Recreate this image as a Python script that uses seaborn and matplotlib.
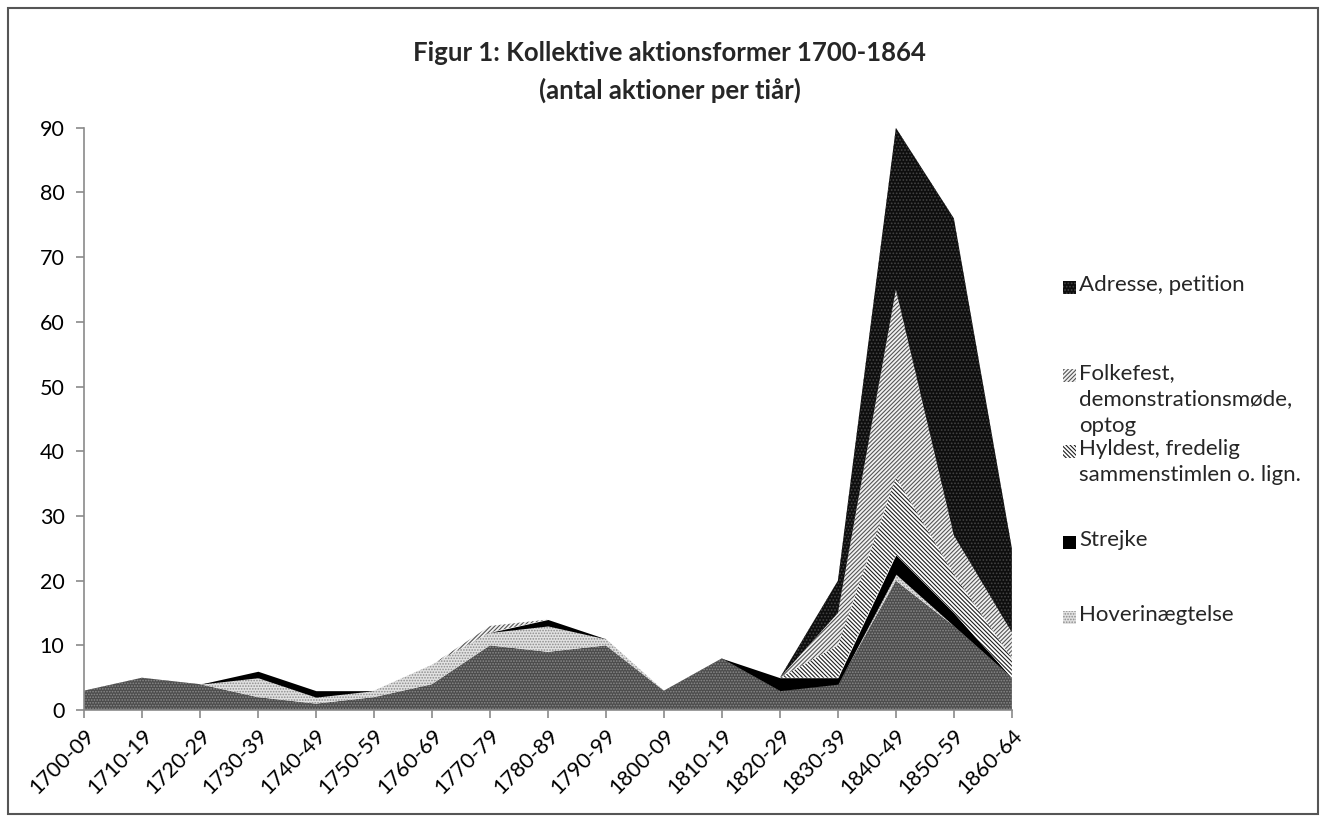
import numpy as np
import matplotlib
matplotlib.use("Agg")
import matplotlib.pyplot as plt
from matplotlib.patches import Rectangle
import seaborn as sns

periods = ["1700-09", "1710-19", "1720-29", "1730-39", "1740-49", "1750-59",
           "1760-69", "1770-79", "1780-89", "1790-99", "1800-09", "1810-19",
           "1820-29", "1830-39", "1840-49", "1850-59", "1860-64"]

# stacked bottom -> top
uro       = [3, 5, 4, 2, 1, 2, 4, 10, 9, 10, 3, 8, 3, 4, 20, 13, 5]
hoveri    = [0, 0, 0, 3, 1, 1, 3, 2, 4, 1, 0, 0, 0, 0, 1, 0, 0]
strejke   = [0, 0, 0, 1, 1, 0, 0, 0, 1, 0, 0, 0, 2, 1, 3, 2, 0]
hyldest   = [0, 0, 0, 0, 0, 0, 0, 0, 0, 0, 0, 0, 0, 5, 12, 6, 3]
folkefest = [0, 0, 0, 0, 0, 0, 0, 1, 0, 0, 0, 0, 0, 5, 29, 6, 4]
adresse   = [0, 0, 0, 0, 0, 0, 0, 0, 0, 0, 0, 0, 0, 5, 25, 49, 13]

legend_labels = ["Adresse, petition",
                 "Folkefest,\ndemonstrationsmøde,\noptog",
                 "Hyldest, fredelig\nsammenstimlen o. lign.",
                 "Strejke",
                 "Hoverinægtelse"]

sns.set_style("white")
plt.rcParams['font.family'] = ['Lato', 'DejaVu Sans']
plt.rcParams['hatch.linewidth'] = 0.8

# face, hatch, hatch colour for each layer (bottom -> top)
styles = [
    ("#4c4c4c", "......", "#8a8a8a"),          # bottom layer
    ("#e2e2e2", "......", "#8c8c8c"),          # Hoverinægtelse
    ("#000000", None, "#000000"),              # Strejke
    ("#ffffff", "\\\\\\\\\\\\\\\\", "#1e1e1e"),  # Hyldest
    ("#f2f2f2", "////////", "#555555"),        # Folkefest
    ("#0e0e0e", ".....", "#444444"),           # Adresse
]

fig = plt.figure(figsize=(13.26, 8.19), dpi=100)
ax = fig.add_axes([0.0633, 0.133, 0.6998, 0.711])

x = np.arange(len(periods))
polys = ax.stackplot(x, uro, hoveri, strejke, hyldest, folkefest, adresse,
                     colors=[s[0] for s in styles])
for p, (fc, h, hc) in zip(polys, styles):
    p.set_edgecolor(hc)
    p.set_linewidth(0)
    if h:
        p.set_hatch(h)

ax.set_xlim(0, len(periods) - 1)
ax.set_ylim(0, 90)
ax.set_yticks(range(0, 91, 10))
ax.set_xticks(x)
ax.set_xticklabels(periods, rotation=45, ha="right", rotation_mode="anchor")
for s in ["top", "right"]:
    ax.spines[s].set_visible(False)
for s in ["left", "bottom"]:
    ax.spines[s].set_color("#8a8a8a")
    ax.spines[s].set_linewidth(1.2)
ax.tick_params(axis="both", colors="#8a8a8a", labelcolor="black",
               labelsize=15.5, length=6, width=1.2, direction="out",
               left=True, bottom=True)
ax.tick_params(axis="y", pad=8)
ax.tick_params(axis="x", pad=5)
ax.set_facecolor("white")

fig.text(0.505, 0.912, "Figur 1: Kollektive aktionsformer 1700-1864\n(antal aktioner per tiår)",
         ha="center", va="center", fontsize=18.5, fontweight="bold", linespacing=1.6)

# legend, drawn by hand to keep the handle on the first text line
leg_y = [288, 376, 452, 543, 618]
leg_styles = [styles[5], styles[4], styles[3], styles[2], styles[1]]
W, H = 1326, 819
for yy, lab, (fc, h, hc) in zip(leg_y, legend_labels, leg_styles):
    r = Rectangle(((1063) / W, 1 - (yy + 6) / H), 13 / W, 13 / H,
                  transform=fig.transFigure, facecolor=fc, edgecolor=hc,
                  linewidth=0, hatch=h)
    fig.patches.append(r)
    fig.text(1079 / W, 1 - (yy - 13) / H, lab, ha="left", va="top",
             fontsize=16, linespacing=1.4)

fig.patches.append(Rectangle((0.006, 0.006), 0.988, 0.984, transform=fig.transFigure,
                             fill=False, edgecolor="#555555", linewidth=1.5))

fig.savefig("out.png", dpi=100)
